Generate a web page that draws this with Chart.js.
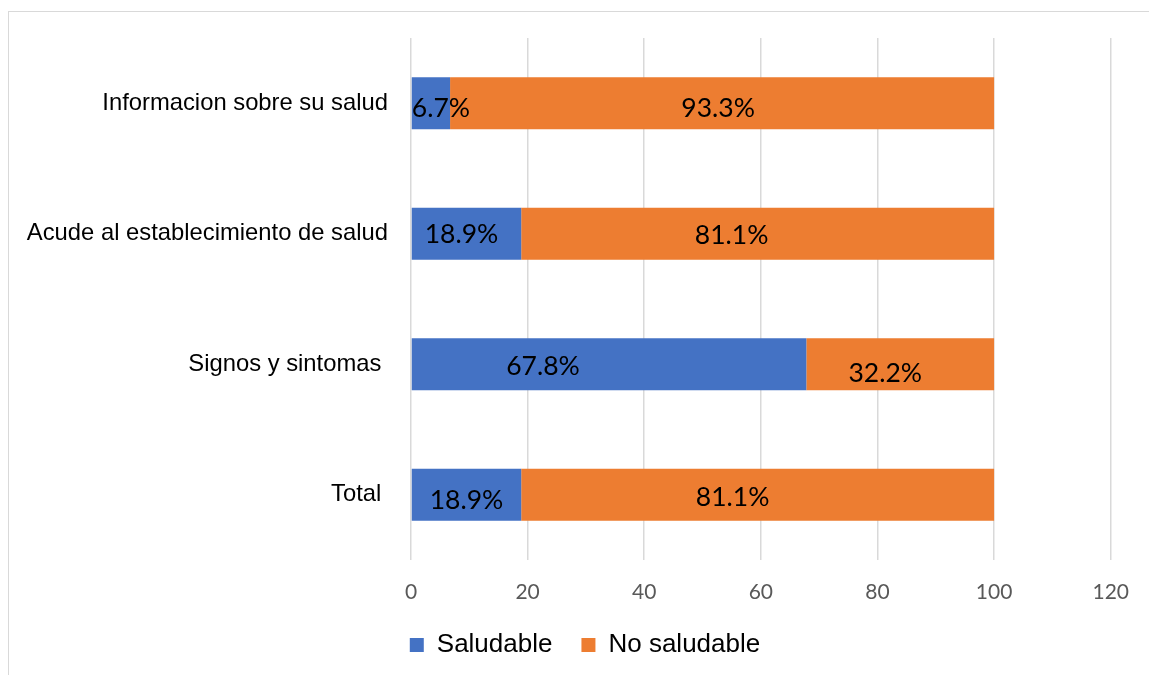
<!DOCTYPE html>
<html>
<head>
<meta charset="utf-8">
<script src="https://cdn.jsdelivr.net/npm/chart.js@4.4.1/dist/chart.umd.min.js"></script>
<style>
  html, body { margin: 0; padding: 0; background: #fff; overflow: hidden; }
  #wrap { position: relative; width: 1149px; height: 675px; overflow: hidden; }
  #frame {
    position: absolute; left: 8px; top: 11px; right: -2px; bottom: -2px;
    border-left: 1px solid #d9d9d9; border-top: 1px solid #d9d9d9;
    pointer-events: none;
  }
  canvas { position: absolute; left: 0; top: 0; }
</style>
</head>
<body>
<div id="wrap">
  <canvas id="chart" width="1149" height="668"></canvas>
  <div id="frame"></div>
</div>
<script>
const categories = [
  "Informacion sobre su salud",
  "Acude al establecimiento de salud",
  "Signos y sintomas ",
  "Total "
];
const saludable = [6.7, 18.9, 67.8, 18.9];
const noSaludable = [93.3, 81.1, 32.2, 81.1];
const xTicks = [0, 20, 40, 60, 80, 100, 120];

// nudges for the value labels, in px, per dataset then per category
const labelNudge = [
  [[10, 5], [-5, 1], [-66, 2], [0, 6]],
  [[-4, 5], [-26, 2], [-15, 9], [-25, 3]]
];

const valueLabels = {
  id: "valueLabels",
  afterDatasetsDraw(chart) {
    const ctx = chart.ctx;
    ctx.save();
    ctx.font = "26.5px Lato";
    ctx.fillStyle = "#000";
    ctx.textAlign = "center";
    ctx.textBaseline = "middle";
    chart.data.datasets.forEach((ds, i) => {
      chart.getDatasetMeta(i).data.forEach((bar, j) => {
        const cx = (bar.x + bar.base) / 2 + labelNudge[i][j][0];
        const cy = bar.y + labelNudge[i][j][1];
        ctx.fillText(ds.data[j].toFixed(1) + "%", cx, cy);
      });
    });
    ctx.restore();
  }
};

// centre the legend under the plot rather than the whole canvas
const legendShift = {
  id: "legendShift",
  afterLayout(chart) {
    if (chart.legend) chart.legend.left += 57;
  }
};

const ctx = document.getElementById("chart").getContext("2d");
new Chart(ctx, {
  type: "bar",
  data: {
    labels: categories,
    datasets: [
      {
        label: "Saludable",
        data: saludable,
        backgroundColor: "#4472C4",
        categoryPercentage: 1,
        barPercentage: 0.4
      },
      {
        label: "No saludable",
        data: noSaludable,
        backgroundColor: "#ED7D31",
        categoryPercentage: 1,
        barPercentage: 0.4
      }
    ]
  },
  options: {
    indexAxis: "y",
    responsive: false,
    animation: false,
    layout: { padding: { top: 38, right: 36, bottom: 0, left: 0 } },
    scales: {
      x: {
        stacked: true,
        min: 0,
        max: 120,
        afterBuildTicks: (s) => { s.ticks = xTicks.map(v => ({ value: v })); },
        afterFit: (s) => { s.height = 43; },
        grid: { color: "#d9d9d9", lineWidth: 1.5, drawTicks: false },
        border: { display: false },
        ticks: { color: "#595959", font: { family: "Lato", size: 21 }, padding: 20 }
      },
      y: {
        stacked: true,
        afterFit: (s) => { s.width = 411; },
        grid: { display: false },
        border: { display: false },
        ticks: { color: "#000", font: { family: "Liberation Sans", size: 23.8 }, padding: 15 }
      }
    },
    plugins: {
      legend: {
        position: "bottom",
        labels: {
          color: "#000",
          font: { family: "Liberation Sans", size: 26 },
          boxWidth: 14,
          boxHeight: 14,
          padding: 29
        }
      },
      tooltip: { enabled: false }
    }
  },
  plugins: [valueLabels, legendShift]
});
</script>
</body>
</html>
